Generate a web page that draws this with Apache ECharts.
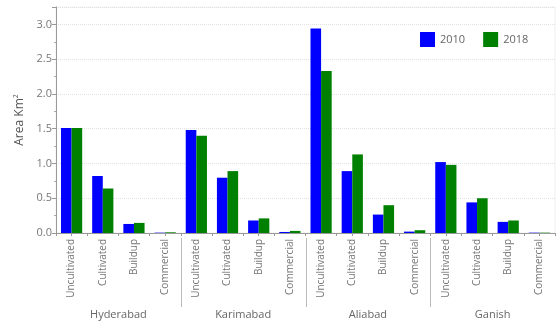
<!DOCTYPE html>
<html>
<head>
<meta charset="utf-8">
<script src="https://cdn.jsdelivr.net/npm/echarts@6/dist/echarts.min.js"></script>
<style>html,body{margin:0;padding:0;background:#fff}#c{width:557px;height:325px}</style>
</head>
<body>
<div id="c"></div>
<script>
const groups = ['Hyderabad', 'Karimabad', 'Aliabad', 'Ganish'];
const classes = ['Uncultivated', 'Cultivated', 'Buildup', 'Commercial'];
const categories = [];
groups.forEach(function () { classes.forEach(function (c) { categories.push(c); }); });
const seriesNames = ['2010', '2018'];
const values2010 = [1.51, 0.82, 0.13, 0.005, 1.48, 0.795, 0.18, 0.015, 2.94, 0.89, 0.265, 0.02, 1.02, 0.44, 0.16, 0.005];
const values2018 = [1.51, 0.64, 0.145, 0.01, 1.40, 0.89, 0.21, 0.03, 2.33, 1.13, 0.40, 0.04, 0.98, 0.50, 0.18, 0.005];
const yTicks = [0, 0.5, 1.0, 1.5, 2.0, 2.5, 3.0];

const FONT = '"Open Sans", Lato, sans-serif';
const chart = echarts.init(document.getElementById('c'), null, {renderer: 'canvas'});
const option = {
  backgroundColor: '#fff',
  animation: false,
  textStyle: {fontFamily: FONT},
  grid: {left: 56, right: 2, top: 7, bottom: 92, show: true, borderColor: '#f0f0f0', borderWidth: 1},
  legend: {
    data: seriesNames, left: 420, top: 32, padding: 0, itemWidth: 15, itemHeight: 15, itemGap: 18,
    textStyle: {color: '#666', fontSize: 11, fontFamily: FONT}, icon: 'rect'
  },
  xAxis: [
    {
      type: 'category', data: categories,
      axisLine: {lineStyle: {color: '#999'}},
      axisTick: {show: true, length: 3, lineStyle: {color: '#999'}},
      axisLabel: {rotate: 90, interval: 0, fontSize: 10, color: '#777', margin: 6, fontFamily: FONT}
    },
    {
      type: 'category', data: groups, position: 'bottom',
      axisLine: {show: false}, axisTick: {show: false},
      axisLabel: {fontSize: 11, color: '#666', margin: 76, fontFamily: FONT}
    },
    {
      type: 'category', data: categories, position: 'bottom',
      axisLine: {show: false}, axisLabel: {show: false},
      axisTick: {show: true, alignWithLabel: true, length: 3, lineStyle: {color: '#999'}}
    }
  ],
  yAxis: {
    type: 'value', min: 0, max: 3.25, interval: 0.5,
    name: '{a|Area Km}{s|2}', nameLocation: 'middle', nameGap: 28,
    nameTextStyle: {rich: {a: {fontSize: 12, color: '#555', fontFamily: FONT}, s: {fontSize: 7, color: '#555', verticalAlign: 'top', padding: [0, 0, 8, 0], fontFamily: FONT}}},
    axisLine: {show: true, lineStyle: {color: '#999'}},
    axisTick: {show: true, length: 4, lineStyle: {color: '#999'}},
    minorTick: {show: true, splitNumber: 2, length: 2, lineStyle: {color: '#aaa'}},
    axisLabel: {
      color: '#777', fontSize: 11, margin: 4, showMaxLabel: false, fontFamily: FONT,
      formatter: function (v) { return yTicks.indexOf(v) >= 0 ? v.toFixed(1) : ''; }
    },
    splitLine: {show: true, lineStyle: {color: '#e2e2e2', type: 'dotted'}}
  },
  series: [
    {name: seriesNames[0], type: 'bar', data: values2010, barWidth: '34%', barGap: '0%', itemStyle: {color: '#0000ff'}},
    {name: seriesNames[1], type: 'bar', data: values2018, barWidth: '34%', barGap: '0%', itemStyle: {color: '#008000'}}
  ]
};
chart.setOption(option);

// group separators between category groups, positioned from the axis scale
const y0 = chart.convertToPixel({yAxisIndex: 0}, 0);
const lines = [];
for (let g = 1; g < groups.length; g++) {
  const a = chart.convertToPixel({xAxisIndex: 0}, g * classes.length - 1);
  const b = chart.convertToPixel({xAxisIndex: 0}, g * classes.length);
  const x = Math.round((a + b) / 2) + 0.5;
  lines.push({type: 'line', shape: {x1: x, y1: y0 + 5, x2: x, y2: y0 + 74}, style: {stroke: '#bbb', lineWidth: 1}, silent: true});
}
chart.setOption({graphic: lines});
</script>
</body>
</html>
